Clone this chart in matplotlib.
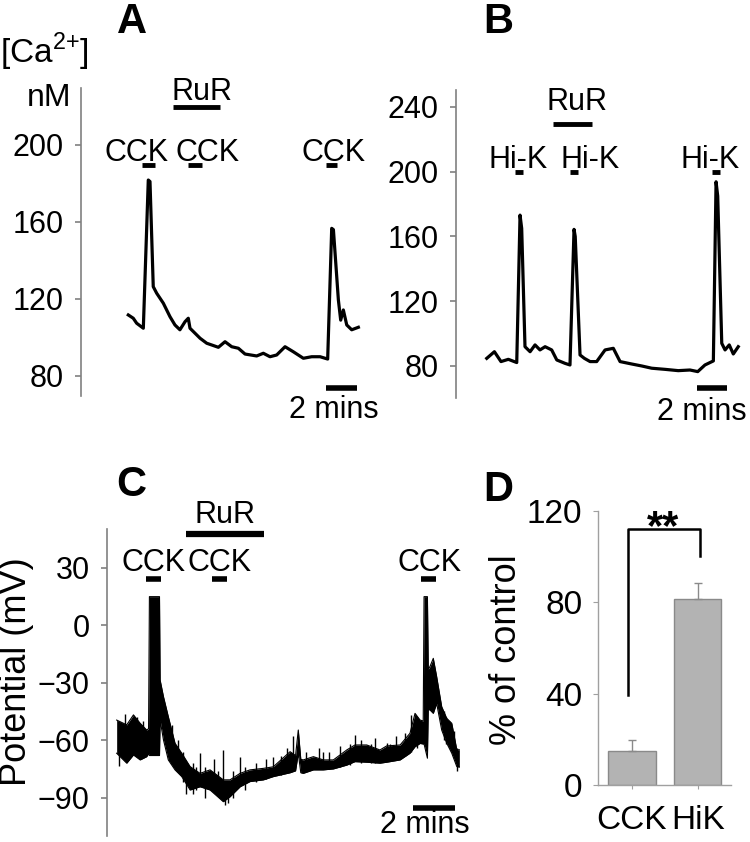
import matplotlib
matplotlib.use("Agg")
from matplotlib import pyplot as plt

plt.rcParams['font.family'] = ['Liberation Sans', 'DejaVu Sans']
plt.rcParams['mathtext.fontset'] = 'custom'
plt.rcParams['mathtext.rm'] = 'Liberation Sans'

# ---- panel A: [Ca2+] trace, CCK (time in min, nM)
t_a = [0.02, 0.34, 0.56, 0.99, 1.31, 1.42, 1.63, 1.85, 2.28, 2.71, 3.03, 3.35, 3.68, 3.89, 4.0,
       4.65, 5.08, 5.83, 6.26, 6.69, 7.12, 7.55, 8.3, 8.73, 9.16, 9.59, 10.13, 10.66, 11.31,
       11.85, 12.39, 12.88, 13.14, 13.25, 13.57, 13.72, 13.89, 14.11, 14.43, 14.86]
ca_a = [111.7, 110, 107.4, 104.8, 181.8, 181, 126.4, 123, 117.8, 110.8, 106.5, 104, 108.2, 110,
        104.8, 99.6, 97, 94.9, 97.8, 95.2, 94.4, 91.4, 90.4, 91.8, 90, 90.9, 95.2, 92.6, 89.2,
        90, 90, 88.8, 156.7, 156, 119.5, 109, 114.3, 106.5, 104, 105.3]

# ---- panel B: [Ca2+] trace, Hi-K
t_b = [0, 0.51, 0.95, 1.44, 2.0, 2.22, 2.33, 2.55, 2.89, 3.22, 3.55, 3.89, 4.33, 4.67, 5.22,
       5.55, 5.82, 5.9, 6.22, 6.51, 6.89, 7.33, 7.89, 8.44, 8.89, 9.67, 10.33, 11.0, 11.89,
       12.77, 13.55, 14.07, 14.55, 15.11, 15.29, 15.4, 15.67, 15.89, 16.17, 16.44, 16.77]
ca_b = [84.7, 88.8, 82.7, 84.1, 82.1, 173.2, 165, 91.9, 88.8, 93, 89.9, 91.9, 89.9, 83.7, 81.6,
        80.6, 164.4, 160, 86.8, 84.7, 82.7, 82.7, 89.9, 90.9, 82.7, 81.2, 80, 78.6, 77.9,
        77.1, 77.5, 76.5, 80.6, 83.1, 193.8, 185, 94, 89.9, 93, 87.4, 91.9]

# ---- panel C: membrane potential, envelope of the noisy trace (min, mV)
t_c = [-0.02, 0.46, 0.78, 1.10, 1.41, 1.50, 1.54, 2.02, 2.05, 2.21, 2.44, 2.76, 3.08, 3.48,
       3.95, 4.43, 5.06, 5.38, 5.86, 6.33, 6.97, 7.44, 8.24, 8.50, 8.63, 8.75, 8.87, 9.35,
       9.82, 10.30, 10.94, 11.33, 11.89, 12.52, 12.84, 13.48, 13.95, 14.19, 14.43, 14.58,
       14.62, 14.78, 14.82, 14.90, 15.06, 15.22, 15.46, 15.70, 15.94, 16.18, 16.30]
upper_c = [-49.5, -52, -46.8, -51.2, -54.7, -54, 14.9, 14.9, -28.6, -37.3, -47.7, -61.6, -66.8,
           -73.8, -77.3, -75.5, -80.7, -80.7, -77.3, -75.5, -74.7, -73.9, -66, -68, -54.7, -70,
           -70.3, -68.6, -70.3, -70.3, -65.1, -62.5, -62.5, -65.1, -63, -62.5, -56.4, -46, -49.5,
           -50, 14.9, 14.9, -23, -21.6, -17.3, -26.8, -42.5, -48.6, -51.2, -65, -65]
lower_c = [-66.8, -72, -67.7, -70.3, -68.6, -67, -68, -68, -49.5, -59.9, -70.3, -75.5, -79,
           -86, -84.3, -86, -92.1, -89.5, -84.3, -81.6, -80.7, -79, -77, -76, -66.8, -77,
           -77.3, -75.5, -75.5, -75, -73, -71.2, -71.5, -72, -71.5, -70.3, -66.8, -63.4, -61.7,
           -62, -62, -69.4, -44, -44.2, -46, -40.8, -54.7, -61.6, -66.8, -73.8, -74]
# single noise spikes sticking out of the band
spike_t = [0.10, 0.38, 0.95, 1.25, 2.6, 2.9, 3.15, 3.30, 3.6, 3.75, 3.95, 4.2, 4.60, 4.8,
           5.06, 5.15, 5.3, 5.5, 5.86, 6.1, 6.6, 7.1, 7.44, 7.8, 8.1, 8.40, 9.0, 9.6, 9.82,
           10.1, 10.6, 11.1, 11.33, 11.6, 12.1, 12.3, 12.84, 13.0, 13.3, 13.7, 14.0, 14.3,
           15.55, 15.65, 15.82, 16.06, 16.2]
spike_lo = [-73.5, -60, -62, -62, -72, -76, -82, -88, -88, -86, -78, -90, -82, -88,
            -85, -94, -93, -90, -80, -86, -82, -80, -76, -78, -76, -70, -76, -74, -72,
            -75, -74, -73, -68, -72, -72, -72, -68, -71, -70, -68, -66, -64,
            -60, -62, -60, -66, -76]
spike_hi = [-60, -46.5, -48, -50, -52, -60, -66, -78, -72, -74, -66.8, -74, -70, -76,
            -65.1, -85, -82, -76, -69, -74, -72, -70, -68.6, -68, -64, -58, -66, -64, -66,
            -66, -63, -62, -57.3, -60, -62, -59, -61.6, -62, -58, -56, -47, -48,
            -45, -48, -50, -55, -64]

# ---- panel D: bar chart
cats_d = ['CCK', 'HiK']
mean_d = [15, 81.5]
err_d = [5, 6.7]

W, H = 750, 842
fig = plt.figure(figsize=(7.5, 8.42), dpi=100)


def px_axes(left, top, right, bottom):
    return fig.add_axes([left / W, 1 - bottom / H, (right - left) / W, (bottom - top) / H])


def fig_text(x, y, s, **kw):
    fig.text(x / W, 1 - y / H, s, **kw)


def trace_style(ax):
    ax.spines[['top', 'right', 'bottom']].set_visible(False)
    ax.spines['left'].set_color('#808080')
    ax.spines['left'].set_linewidth(1.2)
    ax.set_xticks([])
    ax.tick_params(axis='y', length=4.5, width=1.2, color='#808080', labelsize=22, pad=8)


def bar(ax, x0, x1, y, lw=3.5):
    ax.plot([x0, x1], [y, y], color='black', lw=lw, solid_capstyle='butt', clip_on=False)


def label(ax, x, y, s, size=22):
    ax.text(x, y, s, ha='center', va='baseline', fontsize=size, clip_on=False)


# ---------------- A
axA = px_axes(81, 88, 370, 396)
trace_style(axA)
axA.plot(t_a, ca_a, color='black', lw=2.3)
axA.set_xlim(-3.03, 15.61)
axA.set_ylim(69.6, 229.6)
axA.set_yticks([80, 120, 160, 200])
bar(axA, 2.92, 5.94, 219.9)
label(axA, 4.75, 223.4, 'RuR')
for (x0, x1), xc in zip([(0.88, 1.74), (3.89, 4.75), (12.77, 13.46)], [0.56, 5.16, 13.23]):
    label(axA, xc, 191.7, 'CCK')
    bar(axA, x0, x1, 189.6)
bar(axA, 12.77, 14.75, 73.9, lw=4)
label(axA, 13.3, 58.2, '2 mins')

# ---------------- B
axB = px_axes(456, 90, 745, 398)
trace_style(axB)
axB.plot(t_b, ca_b, color='black', lw=2.3)
axB.set_xlim(-2.05, 17.22)
axB.set_ylim(60.2, 250.5)
axB.set_yticks([80, 120, 160, 200, 240])
bar(axB, 4.44, 7.04, 229.8)
label(axB, 6.0, 238, 'RuR')
for (x0, x1), xc in zip([(1.89, 2.44), (5.55, 6.07), (15.0, 15.56)], [2.09, 6.89, 14.89]):
    label(axB, xc, 202, 'Hi-K')
    bar(axB, x0, x1, 199.6)
bar(axB, 14.0, 16.0, 66.2, lw=4)
label(axB, 14.37, 46.7, '2 mins')

# ---------------- C
axC = px_axes(107, 529, 465, 836)
trace_style(axC)
axC.fill_between(t_c, lower_c, upper_c, color='black', lw=0)
axC.plot(t_c, upper_c, color='black', lw=0.8)
axC.plot(t_c, lower_c, color='black', lw=0.8)
axC.vlines(spike_t, spike_lo, spike_hi, color='black', lw=1)
axC.set_xlim(-0.48, 16.57)
axC.set_ylim(-110, 50.2)
axC.set_yticks([-90, -60, -30, 0, 30])
bar(axC, 3.29, 7.0, 47.4, lw=4.5)
label(axC, 5.14, 53.5, 'RuR')
for (x0, x1), xc in zip([(1.37, 2.08), (4.54, 5.25), (14.46, 15.18)], [1.75, 4.89, 14.9]):
    label(axC, xc, 28.3, 'CCK')
    bar(axC, x0, x1, 24.3, lw=4)
bar(axC, 14.08, 16.1, -95.2, lw=4)
label(axC, 14.67, -108.5, '2 mins')

# ---------------- D
axD = px_axes(598.3, 510.6, 730.7, 785.3)
xd = range(len(cats_d))
axD.bar(xd, mean_d, width=0.72, color='#b3b3b3', edgecolor='#8a8a8a', lw=1)
axD.errorbar(xd, mean_d, yerr=[[0, 0], err_d], fmt='none', ecolor='#8a8a8a',
             elinewidth=1, capsize=3, capthick=1)
axD.spines[['top', 'right']].set_visible(False)
for s in ['left', 'bottom']:
    axD.spines[s].set_color('#a0a0a0')
    axD.spines[s].set_linewidth(1)
axD.set_xlim(-0.51, 1.5)
axD.set_ylim(0, 120)
axD.set_yticks([0, 40, 80, 120])
axD.set_xticks(list(xd))
axD.set_xticklabels(cats_d)
axD.tick_params(axis='y', length=3.5, color='#a0a0a0', labelsize=24, pad=8)
axD.tick_params(axis='x', length=3, color='#a0a0a0', labelsize=24, pad=11)
axD.plot([-0.06, -0.06, 1.03, 1.03], [39.4, 111.8, 111.8, 100.2], color='black', lw=1.8,
         clip_on=False)
axD.text(0.47, 107.6, '**', ha='center', va='baseline', fontsize=30, fontweight='bold',
         clip_on=False)

# ---------------- labels around the panels
for s, x, y in [('A', 132, 33), ('B', 498, 33), ('C', 131, 496), ('D', 498, 501)]:
    fig_text(x, y, s, ha='center', va='baseline', fontsize=30, fontweight='bold')
fig_text(0, 63, r'[Ca$^{\rm 2{+}}$]', ha='left', va='baseline', fontsize=24)
fig_text(71, 106, 'nM', ha='right', va='baseline', fontsize=23)
fig_text(17, 672, 'Potential (mV)', rotation=90, ha='center', va='center', fontsize=26)
fig_text(506, 650, '% of control', rotation=90, ha='center', va='center', fontsize=26)

fig.savefig('out.png', dpi=100)
